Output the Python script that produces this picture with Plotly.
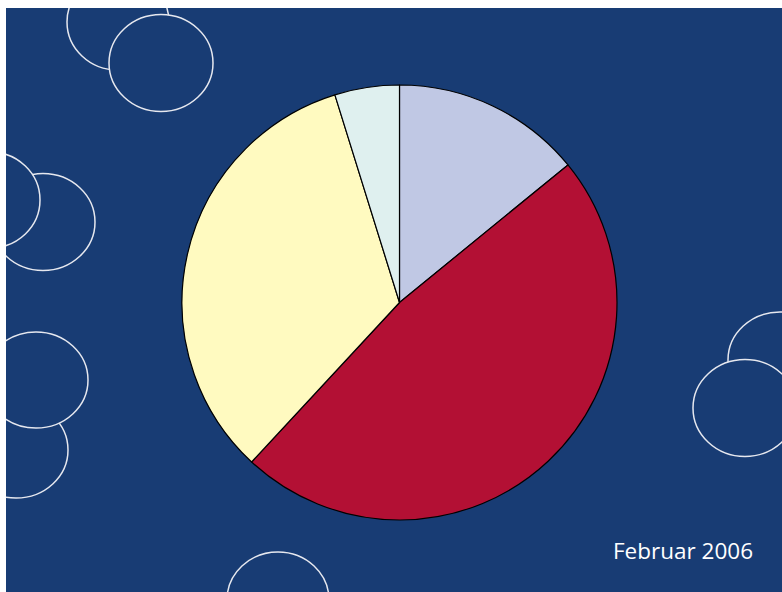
import plotly.graph_objects as go

W, H = 782, 592
# pie data (clockwise from 12 o'clock)
labels = ["A", "B", "C", "D"]
values = [14.1, 47.8, 33.3, 4.8]
colors = ["#c0c8e4", "#b31034", "#fffac0", "#dff0ef"]

# decorative circles: centre x, centre y, rx, ry (pixel coords), drawn back to front
circ_cx = [118, 161, 43, -10, 16, 36, 780, 745, 278]
circ_cy = [22, 63, 222, 200, 450, 380, 360, 408, 600]
circ_rx = [51, 52, 52, 50, 52, 52, 52, 52, 51]
circ_ry = [48, 48.5, 48.5, 48, 48, 48, 48, 48.5, 48]

BG = "#183c74"
LINE = "#e6e8ef"

fig = go.Figure()
fig.add_trace(go.Pie(
    labels=labels, values=values, sort=False, direction="clockwise", rotation=0,
    marker=dict(colors=colors, line=dict(color="#000000", width=1.2)),
    textinfo="none", hoverinfo="label+percent", showlegend=False,
    domain=dict(x=[182 / W, 617 / W], y=[1 - 520 / H, 1 - 85 / H]),
))

shapes = []
for cx, cy, rx, ry in zip(circ_cx, circ_cy, circ_rx, circ_ry):
    shapes.append(dict(type="circle", xref="x", yref="y",
                       x0=cx - rx, x1=cx + rx, y0=cy - ry, y1=cy + ry,
                       fillcolor=BG, line=dict(color=LINE, width=1.5), layer="below"))

fig.update_layout(
    width=W, height=H, margin=dict(l=0, r=0, t=0, b=0),
    paper_bgcolor="white", plot_bgcolor=BG,
    xaxis=dict(range=[6, W], domain=[6 / W, 1], visible=False, fixedrange=True),
    yaxis=dict(range=[H, 8], domain=[0, 1 - 8 / H], visible=False, fixedrange=True),
    shapes=shapes,
    annotations=[dict(x=755, y=550, xref="x", yref="y", text="Februar 2006",
                      showarrow=False, xanchor="right", yanchor="middle",
                      font=dict(family="Open Sans", size=22.5, color="white"))],
)
fig.write_html("out.html", config={"displayModeBar": False},
               post_script="document.body.style.margin='0';")
